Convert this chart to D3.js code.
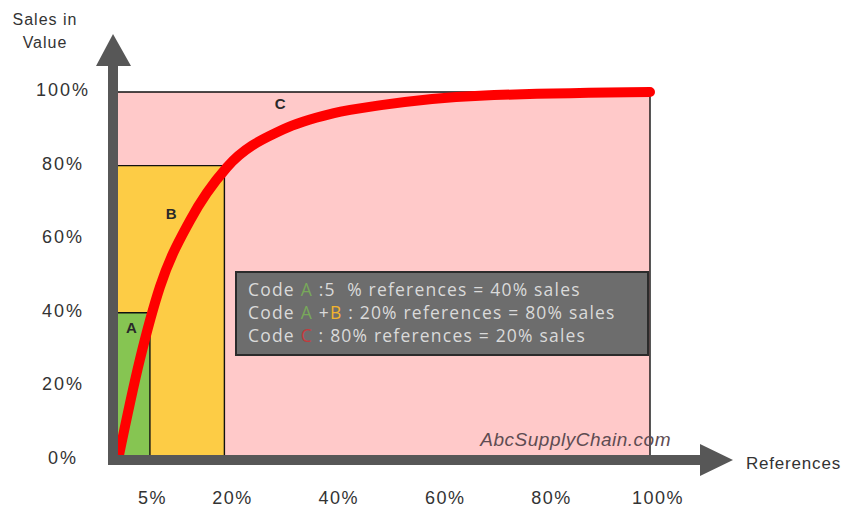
<!DOCTYPE html>
<html>
<head>
<meta charset="utf-8">
<script src="https://cdn.jsdelivr.net/npm/d3@7"></script>
<style>
	body { margin: 0; background: #fff; }
	svg { display: block; font-family: "Liberation Sans", Arial, sans-serif; }
</style>
</head>
<body>
<div id="chart"></div>
<script>
// ABC classes, cumulative % of references and % of sales
var classes = ["A", "B", "C"];
var classRefs = [6, 20, 100];
var classSales = [40, 80, 100];

// cumulative sales curve
var curveRefs = [0, 4.1, 7.9, 13.5, 20.5, 31, 40.4, 49.8, 68, 100];
var curveSales = [0, 27.2, 47.1, 65, 79.6, 89.8, 94.2, 96.5, 99, 100];

var xTicks = [5, 20, 40, 60, 80, 100];
var yTicks = [0, 20, 40, 60, 80, 100];

var legendLines = [
	[["Code ", null], ["A", "A"], [" :5  % references = 40% sales", null]],
	[["Code ", null], ["A", "A"], [" +", null], ["B", "B"], [" : 20% references = 80% sales", null]],
	[["Code ", null], ["C", "C"], [" : 80% references = 20% sales", null]]
];

var fills = { A: "#86c552", B: "#fdcc45", C: "#ffc9c9" };
var legendColors = { A: "#78a85a", B: "#f3b52e", C: "#c43a3c" };
var axisColor = "#575757";

var width = 848, height = 514;

var svg = d3.select("#chart").append("svg")
	.attr("width", width)
	.attr("height", height);

var x = d3.scaleLinear().domain([0, 100]).range([118, 650]);
var y = d3.scaleLinear().domain([0, 100]).range([460, 92]);

// class areas, biggest first so smaller ones sit on top
var idx = d3.range(classes.length).reverse();
svg.selectAll("rect.zone")
	.data(idx)
	.enter().append("rect")
	.attr("class", "zone")
	.attr("x", x(0))
	.attr("y", function (i) { return y(classSales[i]); })
	.attr("width", function (i) { return x(classRefs[i]) - x(0); })
	.attr("height", function (i) { return y(0) - y(classSales[i]); })
	.attr("fill", function (i) { return fills[classes[i]]; });

// thin black top and right borders
idx.forEach(function (i) {
	svg.append("path")
		.attr("d", "M" + x(0) + "," + y(classSales[i]) + "H" + x(classRefs[i]) + "V" + y(0))
		.attr("fill", "none")
		.attr("stroke", "#111")
		.attr("stroke-width", 1.4);
});

// zone letters
var letterPos = { A: [2.5, 36], B: [10, 67], C: [30.5, 97] };
svg.selectAll("text.zoneLabel")
	.data(classes)
	.enter().append("text")
	.attr("class", "zoneLabel")
	.attr("x", function (d) { return x(letterPos[d][0]); })
	.attr("y", function (d) { return y(letterPos[d][1]); })
	.attr("text-anchor", "middle")
	.attr("dominant-baseline", "central")
	.attr("font-size", 15)
	.attr("font-weight", "bold")
	.attr("fill", "#2a2a2a")
	.text(function (d) { return d; });

// watermark
svg.append("text")
	.attr("x", x(100) + 21)
	.attr("y", y(0) - 14)
	.attr("text-anchor", "end")
	.attr("font-size", 19)
	.attr("font-style", "italic")
	.attr("letter-spacing", 0.5)
	.attr("fill", "#5e4c52")
	.text("AbcSupplyChain.com");

// legend box
var box = svg.append("g").attr("transform", "translate(236,272)");
box.append("rect")
	.attr("width", 412)
	.attr("height", 83)
	.attr("fill", "#6d6d6d")
	.attr("stroke", "#2b2b2b")
	.attr("stroke-width", 2);

box.selectAll("text")
	.data(legendLines)
	.enter().append("text")
	.attr("x", 12)
	.attr("y", function (d, i) { return 17 + i * 23; })
	.attr("dominant-baseline", "central")
	.style("font-family", "'Open Sans', sans-serif")
	.attr("font-size", 17.5)
	.attr("letter-spacing", 1.2)
	.style("white-space", "pre")
	.attr("fill", "#dadada")
	.each(function (line) {
		var t = d3.select(this);
		line.forEach(function (seg) {
			t.append("tspan")
				.attr("fill", seg[1] ? legendColors[seg[1]] : null)
				.text(seg[0]);
		});
	});

// pareto curve
var pts = d3.range(curveRefs.length).map(function (i) { return [curveRefs[i], curveSales[i]]; });
var line = d3.line()
	.x(function (d) { return x(d[0]); })
	.y(function (d) { return y(d[1]); })
	.curve(d3.curveMonotoneX);

svg.append("path")
	.datum(pts)
	.attr("d", line)
	.attr("fill", "none")
	.attr("stroke", "#ff0000")
	.attr("stroke-width", 10)
	.attr("stroke-linecap", "round");

// axes drawn as thick arrows
var y0 = y(0), x0 = x(0) - 5;
svg.append("rect")
	.attr("x", x0 - 5).attr("y", y(100) - 27)
	.attr("width", 10).attr("height", y0 + 5 - (y(100) - 27))
	.attr("fill", axisColor);
svg.append("path")
	.attr("d", "M" + (x0 - 17) + "," + (y(100) - 26) + "L" + x0 + "," + (y(100) - 58) + "L" + (x0 + 18) + "," + (y(100) - 26) + "Z")
	.attr("fill", axisColor);
svg.append("rect")
	.attr("x", x0 - 5).attr("y", y0 - 5)
	.attr("width", x(100) + 50 - (x0 - 5)).attr("height", 10)
	.attr("fill", axisColor);
svg.append("path")
	.attr("d", "M" + (x(100) + 50) + "," + (y0 - 16) + "L" + (x(100) + 83) + "," + y0 + "L" + (x(100) + 50) + "," + (y0 + 16) + "Z")
	.attr("fill", axisColor);

// tick labels
svg.selectAll("text.ytick")
	.data(yTicks)
	.enter().append("text")
	.attr("class", "ytick")
	.attr("x", 63)
	.attr("y", function (d) { return y(d) - 2; })
	.attr("text-anchor", "middle")
	.attr("dominant-baseline", "central")
	.attr("font-size", 18)
	.attr("letter-spacing", 2)
	.attr("fill", "#333")
	.text(function (d) { return d + "%"; });

svg.selectAll("text.xtick")
	.data(xTicks)
	.enter().append("text")
	.attr("class", "xtick")
	.attr("x", function (d) { return x(d) + 8; })
	.attr("y", 498)
	.attr("text-anchor", "middle")
	.attr("dominant-baseline", "central")
	.attr("font-size", 18)
	.attr("letter-spacing", 1.5)
	.attr("fill", "#333")
	.text(function (d) { return d + "%"; });

// axis titles
svg.append("text")
	.attr("x", 45).attr("y", 19)
	.attr("text-anchor", "middle")
	.attr("dominant-baseline", "central")
	.attr("font-size", 16)
	.attr("letter-spacing", 1)
	.attr("fill", "#333")
	.text("Sales in");
svg.append("text")
	.attr("x", 45).attr("y", 42)
	.attr("text-anchor", "middle")
	.attr("dominant-baseline", "central")
	.attr("font-size", 16)
	.attr("letter-spacing", 1)
	.attr("fill", "#333")
	.text("Value");
svg.append("text")
	.attr("x", 746).attr("y", 463)
	.attr("dominant-baseline", "central")
	.attr("font-size", 17)
	.attr("letter-spacing", 0.8)
	.attr("fill", "#333")
	.text("References");
</script>
</body>
</html>
